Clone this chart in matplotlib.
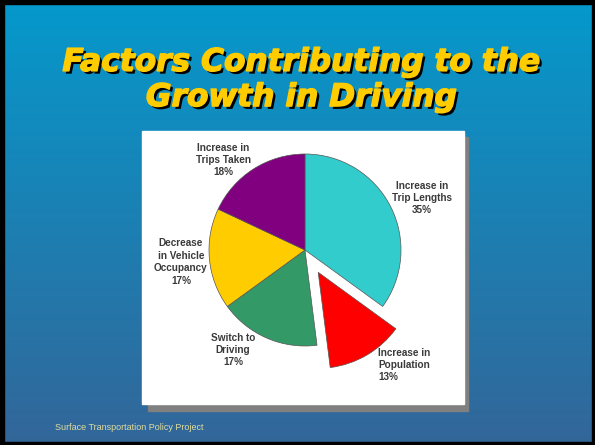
import numpy as np
import matplotlib.pyplot as plt
from matplotlib.patches import Rectangle
import matplotlib.patheffects as pe

# data
labels = ["Increase in\nTrip Lengths\n35%", "Increase in\nPopulation\n13%", "Switch to\nDriving\n17%",
          "Decrease\nin Vehicle\nOccupancy\n17%", "Increase in\nTrips Taken\n18%"]
shares = [35, 13, 17, 17, 18]
colors = ["#33CCCC", "#FF0000", "#339966", "#FFCC00", "#800080"]
explode = [0, 0.27, 0, 0, 0]

W, H = 595, 445
fig = plt.figure(figsize=(W / 100, H / 100), dpi=100)

# slide background (gradient + black frame)
bg = fig.add_axes([0, 0, 1, 1])
top = np.array([5, 153, 204]) / 255
bot = np.array([51, 102, 153]) / 255
t = np.linspace(0, 1, 256)[:, None]
grad = top * (1 - t) + bot * t
bg.imshow(grad[:, None, :].repeat(2, axis=1), aspect="auto", extent=[0, W, H, 0])
bg.set_xlim(0, W)
bg.set_ylim(H, 0)
bg.axis("off")
for r in [Rectangle((0, 0), W, 4), Rectangle((0, H - 3), W, 3), Rectangle((0, 0), 4, H), Rectangle((W - 3, 0), 3, H)]:
    r.set_color("black")
    bg.add_patch(r)

# white chart box with shadow
bg.add_patch(Rectangle((148, 137), 320, 274, color="#808080"))
bg.add_patch(Rectangle((142, 131), 322, 273, color="white"))

# title
shadow = [pe.SimplePatchShadow(offset=(2, -2), shadow_rgbFace="black", alpha=1),
          pe.withStroke(linewidth=1.0, foreground="#FFCC00")]
bg.text(W / 2 + 4, 80, "Factors Contributing to the\nGrowth in Driving", ha="center", va="center",
        fontsize=22.5, fontweight="bold", fontstyle="italic", family="DejaVu Sans",
        color="#FFCC00", linespacing=1.27, path_effects=shadow)

bg.text(55, 427, "Surface Transportation Policy Project", ha="left", va="center",
        fontsize=6.5, family="Liberation Sans", color="#E0DC9C")

# pie, radius 96 px, centred at (305, 250)
R = 96
cx, cy = 305, 250
ax = fig.add_axes([0, 0, 1, 1])
wedges, _ = ax.pie(shares, colors=colors, explode=explode, startangle=90, counterclock=False,
                   wedgeprops=dict(edgecolor="#555555", linewidth=0.5))
ax.set_xlim(-cx / R, (W - cx) / R)
ax.set_ylim(-(H - cy) / R, cy / R)
ax.set_aspect("equal")
ax.axis("off")

label_pos = [(117, 52, "center"), (73, -115, "left"), (-72, -100, "center"), (-124, -12, "center"), (-82, 90, "center")]
for lab, (dx, dy, al) in zip(labels, label_pos):
    ax.text(dx / R, dy / R, lab, ha=al, va="center", fontsize=7.2, fontweight="bold",
            family="Liberation Sans", color="#3a3a3a", linespacing=1.3)

fig.savefig("out.png", dpi=100)
